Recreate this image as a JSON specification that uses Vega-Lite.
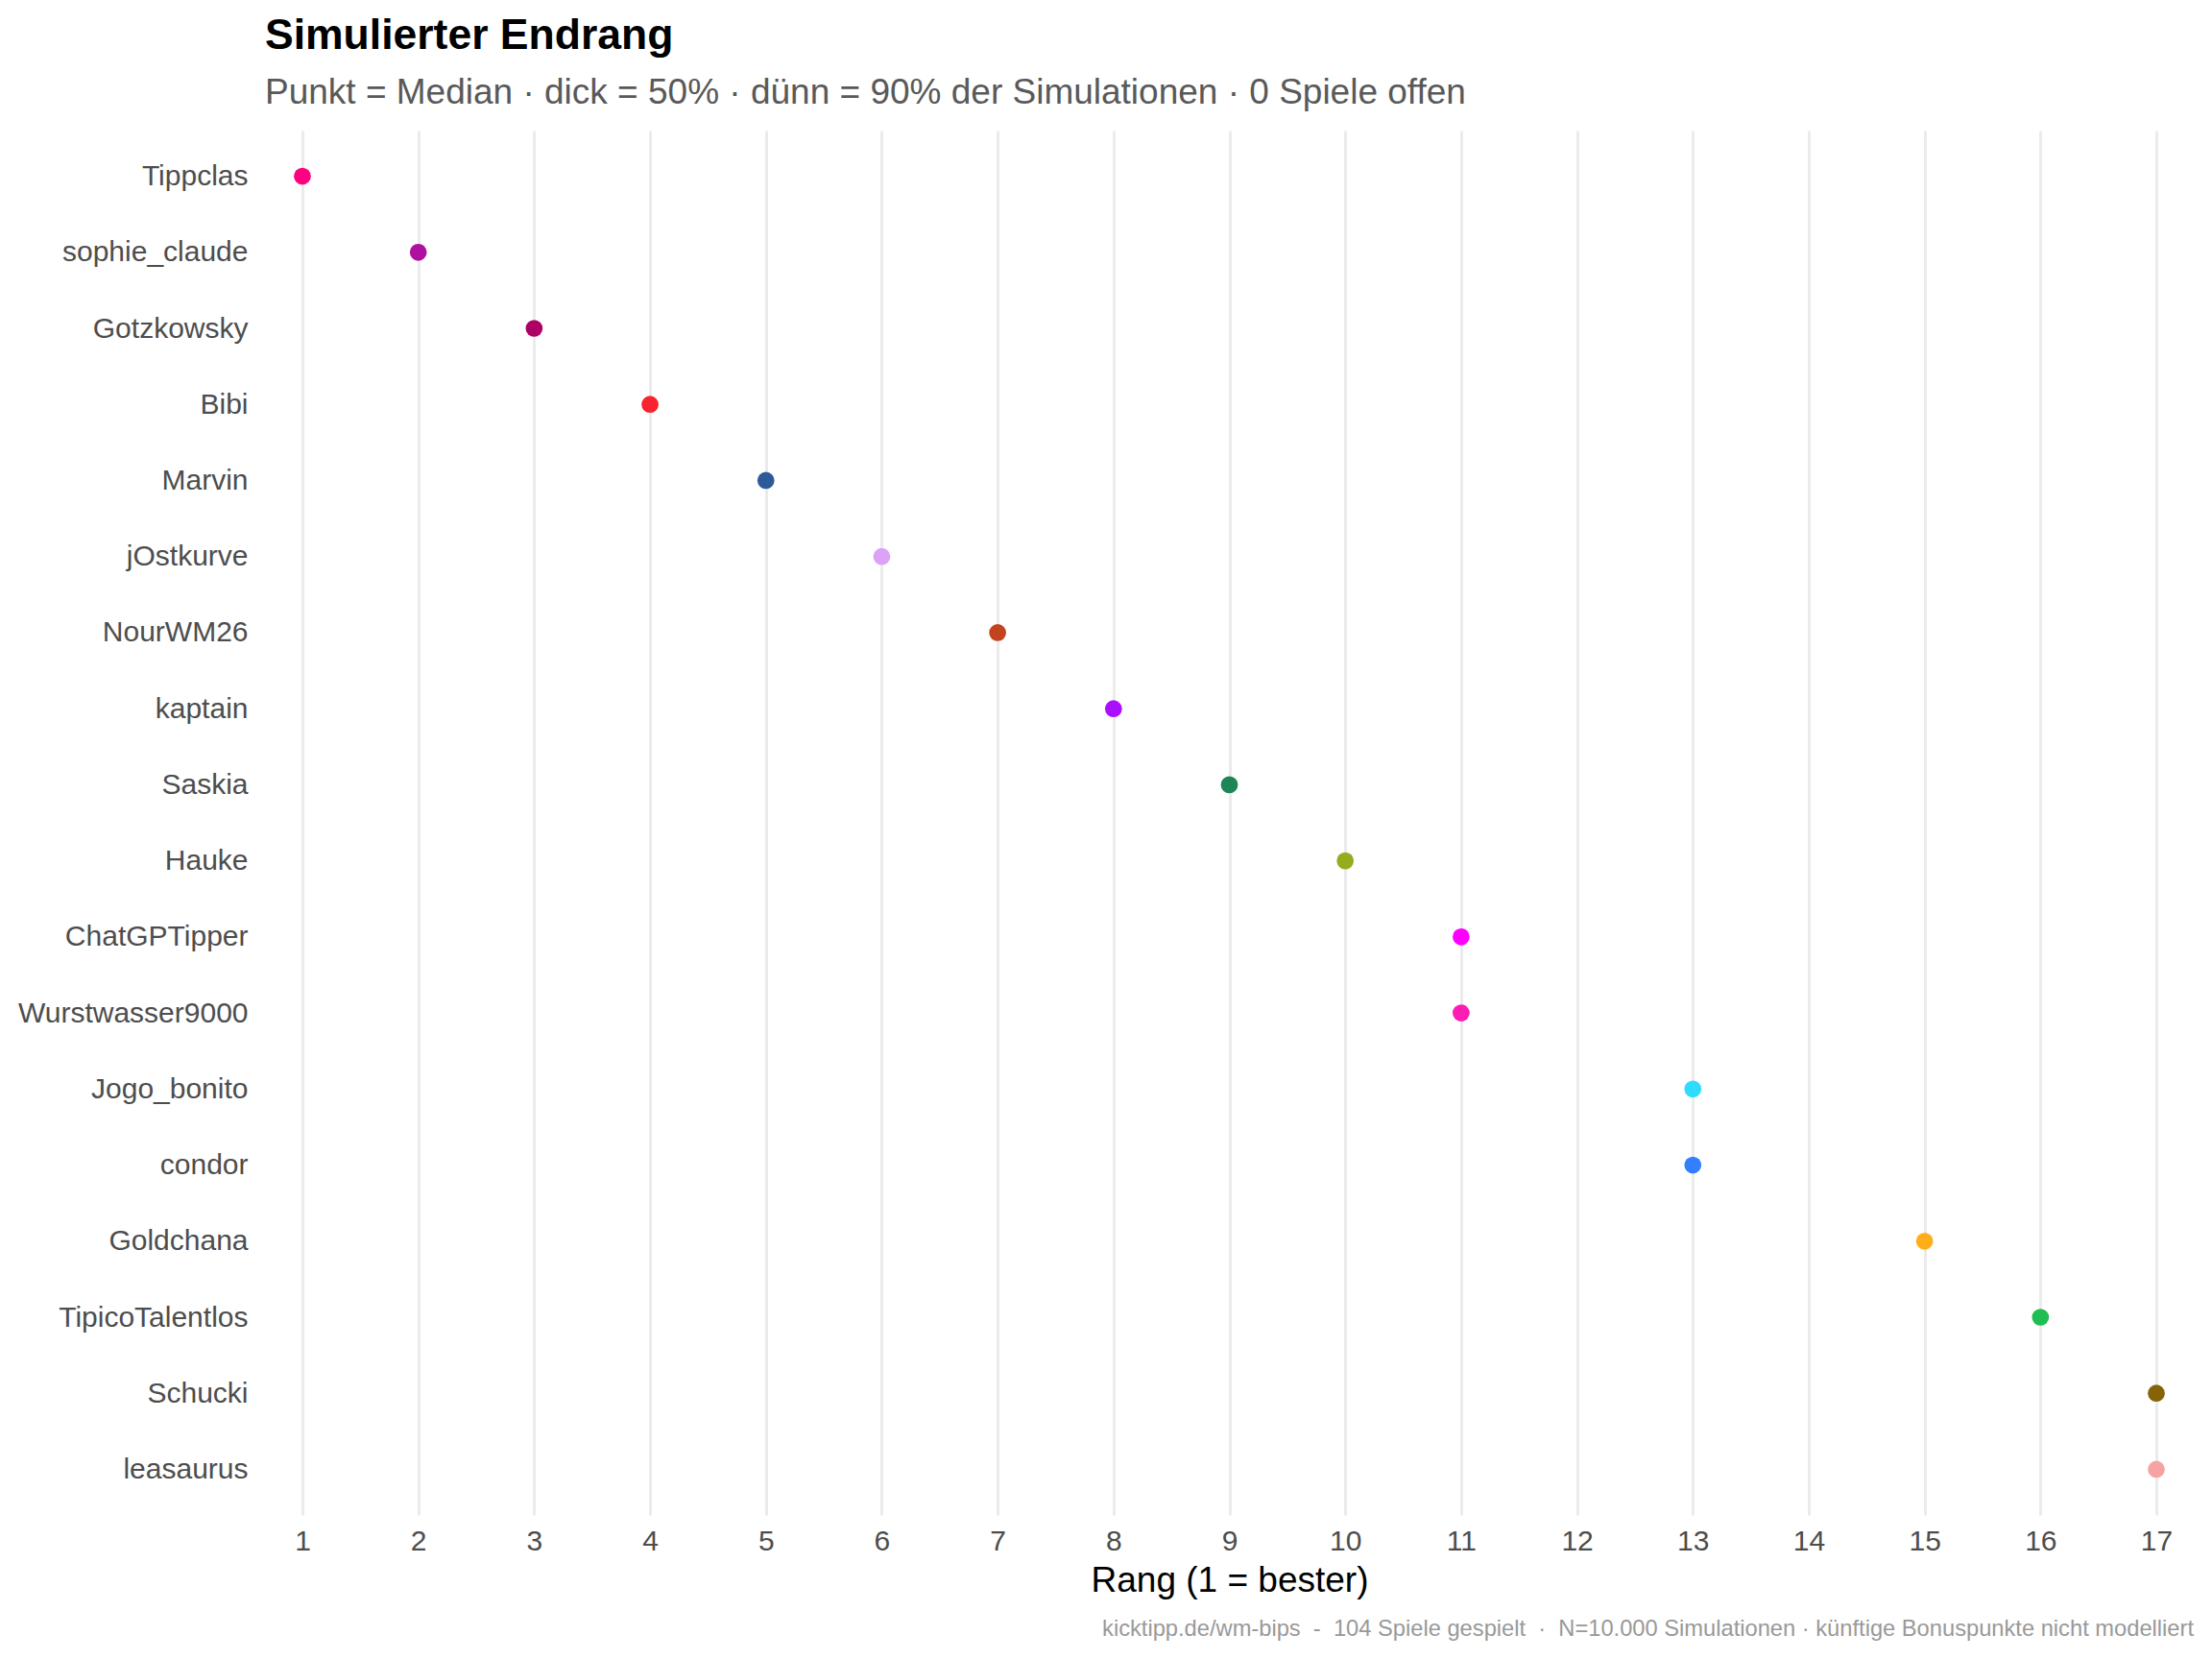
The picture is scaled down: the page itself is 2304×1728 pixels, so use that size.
{
  "$schema": "https://vega.github.io/schema/vega-lite/v6.json",
  "background": "white",
  "padding": {"left": 18, "top": 14, "right": 18, "bottom": 16},
  "title": {
    "text": "kicktipp.de/wm-bips \u00a0- \u00a0104 Spiele gespielt \u00a0· \u00a0N=10.000 Simulationen · künftige Bonuspunkte nicht modelliert",
    "orient": "bottom",
    "anchor": "end",
    "font": "Liberation Sans",
    "fontSize": 23.7,
    "fontWeight": "normal",
    "color": "#999999",
    "offset": 21
  },
  "vconcat": [
    {
      "width": 2009,
      "height": 1442,
      "title": {
        "text": "Simulierter Endrang",
        "subtitle": "Punkt = Median · dick = 50% · dünn = 90% der Simulationen · 0 Spiele offen",
        "anchor": "start",
        "frame": "group",
        "font": "Liberation Sans",
        "fontSize": 44.5,
        "fontWeight": "bold",
        "color": "#000000",
        "subtitleFont": "Liberation Sans",
        "subtitleFontSize": 37,
        "subtitleColor": "#595959",
        "subtitlePadding": 19,
        "offset": 20
      },
      "data": {
        "values": [
          {"spieler": "Tippclas", "rang": 1},
          {"spieler": "sophie_claude", "rang": 2},
          {"spieler": "Gotzkowsky", "rang": 3},
          {"spieler": "Bibi", "rang": 4},
          {"spieler": "Marvin", "rang": 5},
          {"spieler": "jOstkurve", "rang": 6},
          {"spieler": "NourWM26", "rang": 7},
          {"spieler": "kaptain", "rang": 8},
          {"spieler": "Saskia", "rang": 9},
          {"spieler": "Hauke", "rang": 10},
          {"spieler": "ChatGPTipper", "rang": 11},
          {"spieler": "Wurstwasser9000", "rang": 11},
          {"spieler": "Jogo_bonito", "rang": 13},
          {"spieler": "condor", "rang": 13},
          {"spieler": "Goldchana", "rang": 15},
          {"spieler": "TipicoTalentlos", "rang": 16},
          {"spieler": "Schucki", "rang": 17},
          {"spieler": "leasaurus", "rang": 17}
        ]
      },
      "mark": {"type": "point", "filled": true, "opacity": 1, "size": 314},
      "encoding": {
        "x": {
          "field": "rang",
          "type": "quantitative",
          "title": "Rang (1 = bester)",
          "scale": {"domain": [0.677, 17.323], "nice": false, "zero": false},
          "axis": {
            "values": [1, 2, 3, 4, 5, 6, 7, 8, 9, 10, 11, 12, 13, 14, 15, 16, 17],
            "grid": true,
            "gridColor": "#ebebeb",
            "gridWidth": 3,
            "domain": false,
            "ticks": false,
            "tickSize": 0,
            "labelPadding": 12,
            "labelFont": "Liberation Sans",
            "labelFontSize": 30,
            "labelColor": "#4d4d4d",
            "titleFont": "Liberation Sans",
            "titleFontSize": 37,
            "titleFontWeight": "normal",
            "titleColor": "#000000",
            "titlePadding": 8
          }
        },
        "y": {
          "field": "spieler",
          "type": "nominal",
          "title": null,
          "sort": null,
          "scale": {"type": "point", "padding": 0.6},
          "axis": {
            "grid": false,
            "domain": false,
            "ticks": false,
            "tickSize": 0,
            "labelPadding": 18,
            "labelFont": "Liberation Sans",
            "labelFontSize": 30,
            "labelColor": "#4d4d4d",
            "labelLimit": 600
          }
        },
        "color": {
          "field": "spieler",
          "type": "nominal",
          "legend": null,
          "scale": {
            "domain": ["Tippclas", "sophie_claude", "Gotzkowsky", "Bibi", "Marvin", "jOstkurve", "NourWM26", "kaptain", "Saskia", "Hauke", "ChatGPTipper", "Wurstwasser9000", "Jogo_bonito", "condor", "Goldchana", "TipicoTalentlos", "Schucki", "leasaurus"],
            "range": ["#ff0080", "#b010a0", "#ad0066", "#f8232f", "#2e5a9a", "#dba2f5", "#c4431f", "#aa10ff", "#1e8558", "#93ad1e", "#ff00ff", "#ff1cb4", "#2ddcff", "#3380ff", "#ffae1a", "#1ebe52", "#856408", "#f7a3a3"]
          }
        }
      }
    }
  ],
  "config": {
    "view": {"stroke": null},
    "font": "Liberation Sans"
  }
}
